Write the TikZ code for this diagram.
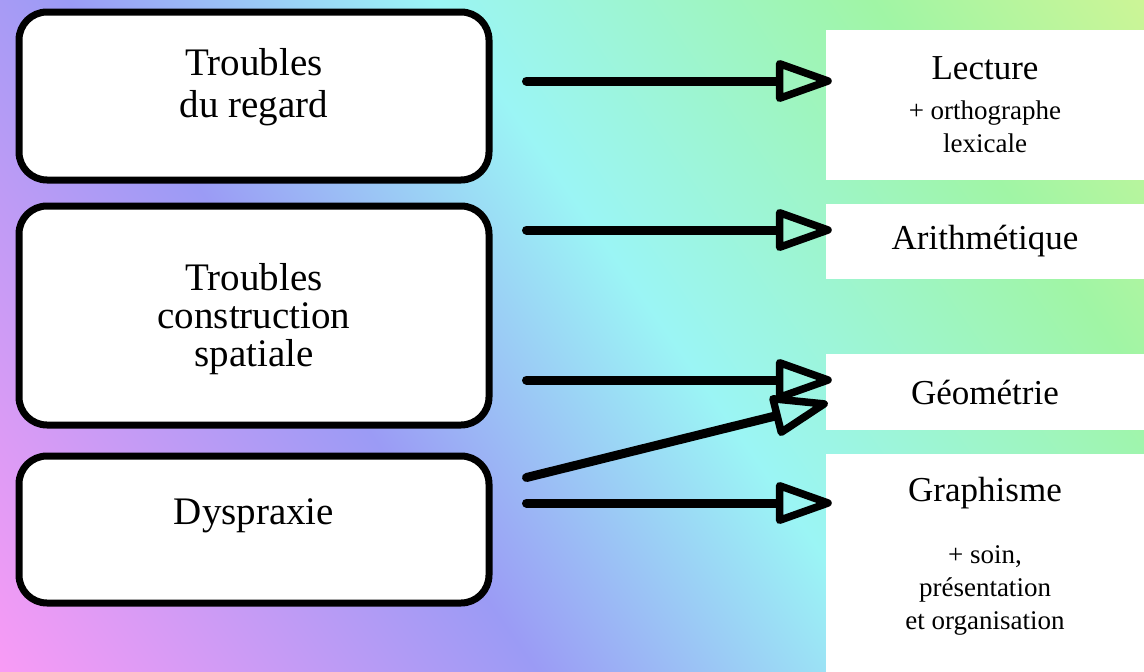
\documentclass[tikz,border=0pt]{standalone}
\usepackage{fontspec}
\setmainfont{Liberation Serif}
\usetikzlibrary{arrows.meta}
\definecolor{bgpink}{RGB}{249,155,245}
\definecolor{bgviolet}{RGB}{155,155,245}
\definecolor{bgcyan}{RGB}{155,245,245}
\definecolor{bggreen}{RGB}{160,245,165}
\definecolor{bglime}{RGB}{205,245,150}
\pgfdeclarehorizontalshading{rainbowbg}{100bp}{color(0bp)=(bgpink); color(25bp)=(bgpink); color(41.7bp)=(bgviolet); color(53bp)=(bgcyan); color(66.5bp)=(bggreen); color(75bp)=(bglime); color(100bp)=(bglime)}
\newcommand{\skilltitle}[1]{{\fontsize{35}{40}\selectfont #1}}

\begin{document}
\begin{tikzpicture}[
x = 1pt, y = -1pt,
troublebox/.style={rectangle, draw = black, line width = 7pt, fill = white,
rounded corners = 28pt, inner sep = 0pt, minimum width = 470pt},
troubletext/.style={align = center, font = \fontsize{39}{42}\selectfont},
skillbox/.style={rectangle, fill = white, inner sep = 0pt, minimum width = 318pt,
align = center, font = \fontsize{27}{33}\selectfont},
thickarr/.style={-{Triangle[open, length = 64pt, width = 43pt, line width = 7.5pt, round]},
line width = 9pt, line cap = round}]

\useasboundingbox (0,0) rectangle (1144,672);

% background
\begin{scope}
\clip (0,0) rectangle (1144,672);
\begin{scope}[transform canvas={rotate around={35:(572,336)}}]
\shade[shading = rainbowbg] (-93,-329) rectangle (1237,1001);
\end{scope}
\end{scope}

% troubles
\node[troublebox, minimum height = 168pt] (regard) at (254,96) {};
\node[troublebox, minimum height = 219pt] (spatial) at (254,315.5) {};
\node[troublebox, minimum height = 147pt] (dyspraxie) at (254,529.5) {};
\node[troubletext] (regardtxt) at ([yshift=9]regard) {Troubles\\du regard};
\node[troubletext, font = \fontsize{39}{38}\selectfont] (spatialtxt) at ([yshift=-3.5]spatial) {Troubles\\construction\\spatiale};
\node[troubletext] (dyspraxietxt) at ([yshift=14]dyspraxie) {Dyspraxie};

% apprentissages
\node[skillbox, minimum height = 150pt] (lecture) at (985,105) {\skilltitle{Lecture}\\[7pt]+ orthographe\\lexicale};
\node[skillbox, minimum height = 75pt] (arith) at (985,241.5) {\skilltitle{Arithmétique}};
\node[skillbox, minimum height = 76pt] (geom) at (985,392) {\skilltitle{Géométrie}};
\node[skillbox, minimum height = 218pt, text depth = 19pt] (graph) at (985,563) {\skilltitle{Graphisme}\\[29pt]+ soin,\\présentation\\et organisation};

% fleches
\draw[thickarr] ([xshift=34, yshift=15]regard.east) -- ([xshift=6, yshift=24]lecture.west);
\draw[thickarr] ([xshift=34, yshift=85.5]spatial.east) -- ([xshift=6, yshift=11.5]arith.west);
\draw[thickarr] ([xshift=34, yshift=-64.5]spatial.east) -- ([xshift=6, yshift=12]geom.west);
\draw[thickarr] ([xshift=34, yshift=52]dyspraxie.east) -- ([xshift=2, yshift=-11]geom.west);
\draw[thickarr] ([xshift=34, yshift=26.5]dyspraxie.east) -- ([xshift=6, yshift=60]graph.west);
\end{tikzpicture}
\end{document}
